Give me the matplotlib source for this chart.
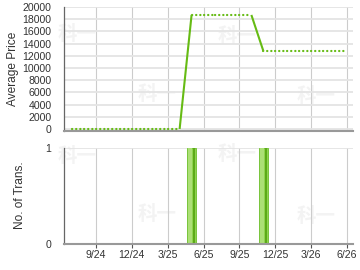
import matplotlib
matplotlib.use('Agg')
import matplotlib.pyplot as plt
import numpy as np

# monthly data, 7/24 .. 6/26
months = ['2024-07', '2024-08', '2024-09', '2024-10', '2024-11', '2024-12',
          '2025-01', '2025-02', '2025-03', '2025-04', '2025-05', '2025-06',
          '2025-07', '2025-08', '2025-09', '2025-10', '2025-11', '2025-12',
          '2026-01', '2026-02', '2026-03', '2026-04', '2026-05', '2026-06']
avg_price = [0, 0, 0, 0, 0, 0, 0, 0, 0, 0,
             18700, 18700, 18700, 18700, 18700, 18700,
             12800, 12800, 12800, 12800, 12800, 12800, 12800, 12800]
transactions = [0, 0, 0, 0, 0, 0, 0, 0, 0, 0, 1, 0,
                0, 0, 0, 0, 1, 0, 0, 0, 0, 0, 0, 0]
tick_months = ['2024-09', '2024-12', '2025-03', '2025-06',
               '2025-09', '2025-12', '2026-03', '2026-06']
tick_labels = ['9/24', '12/24', '3/25', '6/25', '9/25', '12/25', '3/26', '6/26']
price_ticks = list(range(0, 20001, 2000))

plt.rcParams['font.family'] = ['Liberation Sans', 'DejaVu Sans']
line_green = '#66bb14'
text_col = '#333333'

x = np.arange(len(months))
tick_pos = [months.index(m) for m in tick_months]

fig = plt.figure(figsize=(3.6, 2.7), dpi=100)

# faint watermarks, behind the axes
marks = [(77, 34), (157, 94), (237, 36), (316, 97),
         (77, 157), (157, 215), (237, 155), (316, 217)]
for px, py in marks:
    fig.text(px / 360, 1 - py / 270, '科一', fontsize=14, fontweight='bold',
             color='#f3f3f3', ha='center', va='center',
             family=['Noto Sans CJK SC', 'DejaVu Sans'], zorder=0)

ax1 = fig.add_axes([64 / 360, 1 - 130.5 / 270, 289 / 360, 123.5 / 270])
ax2 = fig.add_axes([64 / 360, 1 - 243.5 / 270, 289 / 360, 96 / 270])

for ax in (ax1, ax2):
    ax.set_zorder(1)
    ax.set_facecolor('none')
    ax.set_xlim(-0.67, 23.5)
    ax.set_xticks(tick_pos)
    for s in ('top', 'right'):
        ax.spines[s].set_visible(False)
    ax.spines['left'].set_color('#666666')
    ax.spines['left'].set_linewidth(0.9)
    ax.spines['bottom'].set_color('#999999')
    ax.spines['bottom'].set_linewidth(1.5)
    ax.grid(True, axis='x', color='#cccccc', linewidth=0.8)
    ax.grid(True, axis='y', color='#e4e4e4', linewidth=1.3)
    ax.set_axisbelow(True)
    ax.tick_params(axis='y', length=0, labelsize=7.6, colors=text_col, pad=9)

# price line: solid where the value changes, dotted where it carries over
for i in range(len(x) - 1):
    same = avg_price[i] == avg_price[i + 1]
    if same:
        ax1.plot(x[i:i + 2], avg_price[i:i + 2], color=line_green, linewidth=1.6,
                 linestyle=(0, (0.1, 1.75)), dash_capstyle='round',
                 clip_on=False, zorder=3)
    else:
        ax1.plot(x[i:i + 2], avg_price[i:i + 2], color=line_green, linewidth=1.5,
                 solid_capstyle='butt', clip_on=False, zorder=3)
ax1.set_ylim(-250, 20000)
ax1.set_yticks(price_ticks)
ax1.tick_params(axis='x', length=0, labelbottom=False)
ax1.set_ylabel('Average Price', fontsize=8.6, color=text_col)
ax1.yaxis.set_label_coords((19 - 64) / 289, 0.5)

# transaction bars with a simple shaded look
ax2.bar(x, transactions, width=0.75, color='#8fd24f', edgecolor='#6cbf2a', linewidth=0.6)
ax2.bar(x - 0.12, transactions, width=0.3, color='#acdf76', linewidth=0)
ax2.bar(x + 0.2, transactions, width=0.18, color='#5caa18', linewidth=0)
ax2.set_ylim(0, 1)
ax2.set_yticks([0, 1])
ax2.set_xticklabels(tick_labels)
ax2.tick_params(axis='x', length=3, width=0.8, color='#555555', labelsize=7.6,
                labelcolor=text_col, pad=2)
ax2.set_ylabel('No. of Trans.', fontsize=8.6, color=text_col)
ax2.yaxis.set_label_coords((25.5 - 64) / 289, 0.5)

fig.savefig('out.png', dpi=100)
